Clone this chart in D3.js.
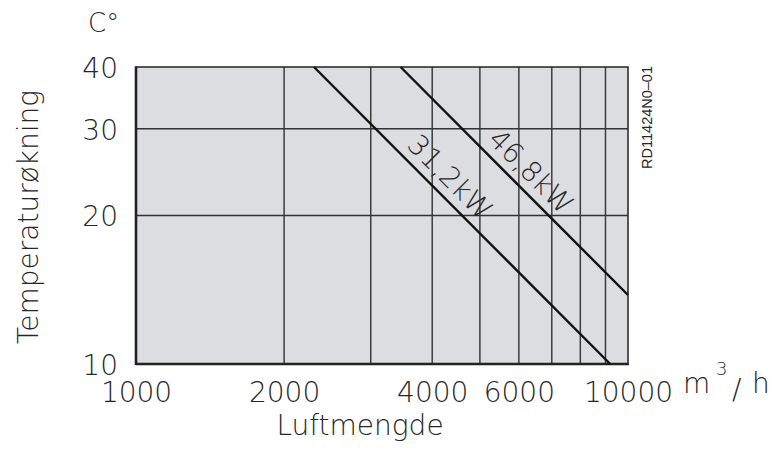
<!DOCTYPE html>
<html>
<head>
<meta charset="utf-8">
<script src="https://cdn.jsdelivr.net/npm/d3@7"></script>
<style>
  html, body { margin: 0; padding: 0; background: #fff; }
  svg { display: block; }
  text { font-family: "DejaVu Sans", sans-serif; font-weight: 200; fill: #262626; }
</style>
</head>
<body>
<script>
// ---- data ----
const xTickValues = [1000, 2000, 4000, 6000, 10000];
const xGridValues = [2000, 3000, 4000, 5000, 6000, 7000, 8000, 9000];
const yTickValues = [10, 20, 30, 40];
const yGridValues = [20, 30];
const seriesNames = ["31,2kW", "46,8kW"];
const airflow312 = [2300, 9200];
const temp312 = [40, 10];
const airflow468 = [3450, 10000];
const temp468 = [40, 13.8];
const labelAirflow = [4090, 5975]; // where each label sits along its line

// ---- layout ----
const W = 775, H = 453;
const x = d3.scaleLog().domain([1000, 10000]).range([136, 628]);
const y = d3.scaleLog().domain([10, 40]).range([364, 67]);

const svg = d3.select("body").append("svg").attr("width", W).attr("height", H);

// plot background
svg.append("rect")
  .attr("x", x(1000)).attr("y", y(40))
  .attr("width", x(10000) - x(1000)).attr("height", y(10) - y(40))
  .attr("fill", "#dcdde0");

// grid
svg.append("g").selectAll("line").data(xGridValues).join("line")
  .attr("x1", d => x(d)).attr("x2", d => x(d))
  .attr("y1", y(40)).attr("y2", y(10))
  .attr("stroke", "#3c3c3c").attr("stroke-width", 1.5);
svg.append("g").selectAll("line").data(yGridValues).join("line")
  .attr("x1", x(1000)).attr("x2", x(10000))
  .attr("y1", d => y(d)).attr("y2", d => y(d))
  .attr("stroke", "#333").attr("stroke-width", 1.5);

// frame
svg.append("rect")
  .attr("x", x(1000)).attr("y", y(40))
  .attr("width", x(10000) - x(1000)).attr("height", y(10) - y(40))
  .attr("fill", "none").attr("stroke", "#222").attr("stroke-width", 1.5);
svg.append("line").attr("x1", x(1000)).attr("x2", x(1000)).attr("y1", y(40) - 0.5).attr("y2", y(10) + 1)
  .attr("stroke", "#222").attr("stroke-width", 2.6);
svg.append("line").attr("x1", x(1000)).attr("x2", x(10000) + 0.75).attr("y1", y(10)).attr("y2", y(10))
  .attr("stroke", "#222").attr("stroke-width", 2.6);

// series
const series = [
  { name: seriesNames[0], q: airflow312, t: temp312, lq: labelAirflow[0] },
  { name: seriesNames[1], q: airflow468, t: temp468, lq: labelAirflow[1] }
];
const line = d3.line().x(d => x(d[0])).y(d => y(d[1]));
series.forEach(s => {
  const pts = s.q.map((q, i) => [q, s.t[i]]);
  svg.append("path").attr("d", line(pts))
    .attr("fill", "none").attr("stroke", "#111").attr("stroke-width", 2.4);
  // label along line (log-log interpolation)
  const f = (Math.log(s.lq) - Math.log(s.q[0])) / (Math.log(s.q[1]) - Math.log(s.q[0]));
  const lt = Math.exp(Math.log(s.t[0]) + f * (Math.log(s.t[1]) - Math.log(s.t[0])));
  const px = x(s.lq), py = y(lt);
  const ang = Math.atan2(y(s.t[1]) - y(s.t[0]), x(s.q[1]) - x(s.q[0])) * 180 / Math.PI;
  svg.append("text")
    .attr("transform", `translate(${px},${py}) rotate(${ang})`)
    .attr("text-anchor", "middle").attr("y", -9)
    .attr("font-size", 28)
    .text(s.name);
});

// axes
const xAxis = svg.append("g").attr("transform", `translate(0,${y(10)})`)
  .call(d3.axisBottom(x).tickValues(xTickValues).tickFormat(d3.format("d")).tickSize(0).tickPadding(18));
xAxis.select(".domain").remove();
xAxis.selectAll("text").attr("font-size", 28).style("font-family", "DejaVu Sans").attr("fill", "#262626");

const yAxis = svg.append("g").attr("transform", `translate(${x(1000)},0)`)
  .call(d3.axisLeft(y).tickValues(yTickValues).tickFormat(d3.format("d")).tickSize(0).tickPadding(18));
yAxis.select(".domain").remove();
yAxis.selectAll("text").attr("font-size", 28).attr("dy", "0.37em").attr("fill", "#262626");
d3.selectAll(".tick text").style("font-weight", 200);

// unit labels
svg.append("text").attr("x", 88).attr("y", 32).attr("font-size", 26).text("C°");
svg.append("text").attr("x", 683).attr("y", 393).attr("font-size", 28).text("m");
svg.append("text").attr("x", 716).attr("y", 375).attr("font-size", 18).text("3");
svg.append("text").attr("x", 732).attr("y", 399).attr("font-size", 28).text("/");
svg.append("text").attr("x", 752).attr("y", 393).attr("font-size", 28).text("h");

// axis titles
svg.append("text").attr("x", 360).attr("y", 435).attr("text-anchor", "middle")
  .attr("font-size", 28).text("Luftmengde");
svg.append("text").attr("transform", "translate(38,217) rotate(-90)")
  .attr("text-anchor", "middle").attr("font-size", 28).text("Temperaturøkning");

// drawing code
svg.append("text").attr("transform", "translate(652,66) rotate(-90)")
  .attr("text-anchor", "end")
  .style("font-family", "Liberation Sans").style("font-weight", 400)
  .attr("font-size", 14.5).text("RD11424N0–01");
</script>
</body>
</html>
